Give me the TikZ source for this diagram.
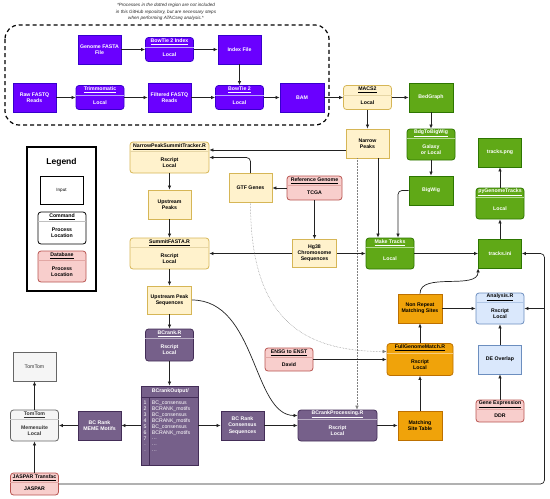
\documentclass[tikz,border=0pt]{standalone}
\usepackage{fontspec}
\setmainfont{Liberation Sans}
\usepackage{xcolor}
\usepackage{tikz}
\usetikzlibrary{arrows.meta}

% colour families: Fill, Line, Text, Sep
\definecolor{vioFill}{HTML}{6A00FF}\definecolor{vioLine}{HTML}{3700CC}\definecolor{vioText}{HTML}{FFFFFF}\definecolor{vioSep}{HTML}{B9A3FF}
\definecolor{yelFill}{HTML}{FFF2CC}\definecolor{yelLine}{HTML}{D6B656}\definecolor{yelText}{HTML}{000000}\definecolor{yelSep}{HTML}{E6D6A6}
\definecolor{grnFill}{HTML}{60A917}\definecolor{grnLine}{HTML}{2D7600}\definecolor{grnText}{HTML}{FFFFFF}\definecolor{grnSep}{HTML}{B2DA8E}
\definecolor{purFill}{HTML}{76608A}\definecolor{purLine}{HTML}{432D57}\definecolor{purText}{HTML}{FFFFFF}\definecolor{purSep}{HTML}{B9ADC4}
\definecolor{orgFill}{HTML}{F0A30A}\definecolor{orgLine}{HTML}{BD7000}\definecolor{orgText}{HTML}{000000}\definecolor{orgSep}{HTML}{F7CB7A}
\definecolor{bluFill}{HTML}{DAE8FC}\definecolor{bluLine}{HTML}{6C8EBF}\definecolor{bluText}{HTML}{000000}\definecolor{bluSep}{HTML}{AFC6E6}
\definecolor{pnkFill}{HTML}{F8CECC}\definecolor{pnkLine}{HTML}{B85450}\definecolor{pnkText}{HTML}{000000}\definecolor{pnkSep}{HTML}{E2A7A4}
\definecolor{gryFill}{HTML}{F5F5F5}\definecolor{gryLine}{HTML}{666666}\definecolor{gryText}{HTML}{333333}\definecolor{grySep}{HTML}{C8C8C8}
\definecolor{whtFill}{HTML}{FFFFFF}\definecolor{whtLine}{HTML}{000000}\definecolor{whtText}{HTML}{000000}\definecolor{whtSep}{HTML}{C0C0C0}
\definecolor{lineGray}{HTML}{222222}

\newcommand{\boxfont}{\fontsize{5.2}{6.2}\selectfont\bfseries}
% family, name, position, width, height, title, body
\newcommand{\cmdbox}[7]{%
  \node[cmd=#1, minimum width=#4, minimum height=#5] (#2) at (#3) {};
  \draw[draw=#1Sep, line width=0.6pt] ([yshift=-10]#2.north west) -- ([yshift=-10]#2.north east);
  \node[text=#1Text, font=\boxfont, inner sep=0pt] (#2-title) at ([yshift=-5]#2.north) {\underline{#6}};
  \node[text=#1Text, font=\boxfont, align=center, inner sep=0pt] (#2-body) at ([yshift=-5]#2.center) {#7};
}

\begin{document}
\begin{tikzpicture}[
    x=1pt, y=-1pt,
    box/.style={draw=#1Line, fill=#1Fill, text=#1Text, line width=0.8pt, inner sep=1pt, align=center, font=\boxfont},
    input/.style={box=#1, rectangle, minimum width=43, minimum height=29},
    cmd/.style={box=#1, rounded corners=3},
    arrow/.style={-{Latex[length=4pt,width=3.6pt]}, line width=0.7pt, draw=lineGray},
    dotline/.style={-{Latex[length=4pt,width=3.6pt]}, line width=0.5pt, draw=gray, densely dotted},
    region/.style={line width=1.2pt, dash pattern=on 4pt off 3pt, rounded corners=14},
    note/.style={font=\fontsize{4.6}{6.3}\selectfont\itshape, align=center, text=black!85},
    cell/.style={font=\fontsize{5.2}{6}\selectfont, text=white, inner sep=0pt}
]
    \useasboundingbox (0,0) rectangle (550,499);

    % region of steps done outside the repository
    \node[note] (note) at (166,12) {*Processes in the dotted region are not included\\in this GitHub repository, but are necessary steps\\when performing ATACseq analysis.*};
    \draw[region] (5,25) rectangle (329,125);

    % alignment
    \node[input=vio] (gfasta) at (99.5,49.5) {Genome FASTA\\File};
    \cmdbox{vio}{bt2idx}{169.5,49.5}{48}{24}{BowTie 2 Index}{Local}
    \node[input=vio] (idxfile) at (239.5,49.5) {Index File};
    \node[input=vio] (rawfq) at (34.5,97.5) {Raw FASTQ\\Reads};
    \cmdbox{vio}{trimmo}{100,97.5}{48}{24}{Trimmomatic}{Local}
    \node[input=vio] (filtfq) at (169.5,97.5) {Filtered FASTQ\\Reads};
    \cmdbox{vio}{bt2}{239.5,97.5}{48}{24}{BowTie 2}{Local}
    \node[input=vio, minimum width=44] (bam) at (302,97.5) {BAM};

    % peaks and tracks
    \cmdbox{yel}{macs2}{367.5,97.5}{48}{24}{MACS2}{Local}
    \node[input=grn, minimum width=44] (bedgraph) at (431,97.5) {BedGraph};
    \node[input=yel] (narrowpk) at (367.5,143.5) {Narrow\\Peaks};
    \cmdbox{grn}{bdg2bw}{431,144.5}{48}{31}{BdgToBigWig}{Galaxy\\or Local}
    \node[input=grn, minimum width=44] (bigwig) at (431,190.5) {BigWig};
    \node[input=grn] (trackspng) at (500,152.5) {tracks.png};
    \cmdbox{grn}{pgt}{500,203.5}{48}{31}{pyGenomeTracks}{Local}
    \cmdbox{grn}{maketr}{390,253.5}{48}{31}{Make Tracks}{Local}
    \node[input=grn] (tracksini) at (500,253.5) {tracks.ini};

    % summits and sequences
    \cmdbox{yel}{npst}{169.5,157.5}{79}{31}{NarrowPeakSummitTracker.R}{Rscript\\Local}
    \node[input=yel] (upstreampk) at (169.5,204.5) {Upstream\\Peaks};
    \cmdbox{yel}{sumfasta}{169.5,253.5}{79}{31}{SummitFASTA.R}{Rscript\\Local}
    \node[input=yel, minimum width=44, minimum height=28] (upseq) at (169.5,300) {Upstream Peak\\Sequences};
    \node[input=yel] (gtf) at (250.5,188) {GTF Genes};
    \cmdbox{pnk}{refgen}{314.5,188}{55}{24}{Reference Genome}{TCGA}
    \node[input=yel, minimum width=44, minimum height=28] (hg38) at (314.5,253.5) {Hg38\\Chromosome\\Sequences};

    % motifs
    \cmdbox{pur}{bcrank}{169.5,345}{48}{32}{BCrank.R}{Rscript\\Local}
    \node[box=pur, rectangle, minimum width=57, minimum height=79] (bcout) at (169.5,425.5) {};
    \draw[draw=purLine, line width=0.6pt] ([yshift=-12]bcout.north west) -- ([yshift=-12]bcout.north east);
    \draw[draw=purLine, line width=0.6pt] ([xshift=9,yshift=-12]bcout.north west) -- ([xshift=9]bcout.south west);
    \node[cell, font=\boxfont, anchor=west] (bcout-head) at ([xshift=11,yshift=-6]bcout.north west) {BCrankOutput/};
    \foreach \n/\idx/\val in {1/1/BC\_consensus, 2/2/BCRANK\_motifs, 3/3/BC\_consensus, 4/4/BCRANK\_motifs, 5/5/BC\_consensus, 6/6/BCRANK\_motifs, 7/7/\dots, 8/./\dots, 9/./\dots} {
        \node[cell] (bcout-i\n) at ([xshift=4.5,yshift={-17.5-6*(\n-1)}]bcout.north west) {\idx};
        \node[cell, anchor=west] (bcout-v\n) at ([xshift=11,yshift={-17.5-6*(\n-1)}]bcout.north west) {\val};
    }
    \node[input=pur] (mememotifs) at (99.5,425.5) {BC Rank\\MEME Motifs};
    \node[input=pur] (consseq) at (242.5,425.5) {BC Rank\\Consensus\\Sequences};
    \node[input=gry, font=\fontsize{5.2}{6.2}\selectfont] (tomtomin) at (34.5,366.5) {TomTom};
    \cmdbox{gry}{ttmeme}{34.5,425.5}{48}{31}{TomTom}{Memesuite\\Local}
    \cmdbox{pnk}{jaspar}{34.5,484}{48}{22}{JASPAR Transfac}{JASPAR}
    \cmdbox{pur}{bcproc}{337.5,425.5}{79}{31}{BCrankProcessing.R}{Rscript\\Local}

    % matching and expression
    \node[input=org, minimum width=44] (matchtab) at (420,425.5) {Matching\\Site Table};
    \cmdbox{org}{fgm}{420,359.5}{66}{32}{FullGenomeMatch.R}{Rscript\\Local}
    \cmdbox{pnk}{ensg}{289,359.5}{48}{23}{ENSG to ENST}{David}
    \node[input=org, minimum width=44] (nonrep) at (420,308.5) {Non Repeat\\Matching Sites};
    \cmdbox{blu}{analysis}{500,308.5}{48}{31}{Analysis.R}{Rscript\\Local}
    \node[input=blu] (deoverlap) at (500,359.5) {DE Overlap};
    \cmdbox{pnk}{geneexp}{500,411}{48}{22}{Gene Expression}{DDR}

    % legend
    \node[draw=black, line width=1.6pt, minimum width=69, minimum height=144] (legend) at (61.5,219) {};
    \node[font=\fontsize{8.5}{10}\selectfont\bfseries] (legend-title) at (61.5,162) {Legend};
    \node[input=wht, minimum height=28, line width=1pt, font=\fontsize{4.6}{5.5}\selectfont] (leg-input) at (61.5,190) {Input};
    \cmdbox{wht}{legcmd}{62,228}{48}{32}{Command}{Process\\Location}
    \cmdbox{pnk}{legdb}{62,266.5}{48}{31}{Database}{Process\\Location}

    % connectors
    \draw[arrow] (gfasta) -- (bt2idx);
    \draw[arrow] (bt2idx) -- (idxfile);
    \draw[arrow] (idxfile) -- (bt2);
    \draw[arrow] (rawfq) -- (trimmo);
    \draw[arrow] (trimmo) -- (filtfq);
    \draw[arrow] (filtfq) -- (bt2);
    \draw[arrow] (bt2) -- (bam);
    \draw[arrow] (bam) -- (macs2);
    \draw[arrow] (macs2) -- (bedgraph);
    \draw[arrow] (macs2) -- (narrowpk);
    \draw[arrow] (bedgraph) -- (bdg2bw);
    \draw[arrow] (bdg2bw) -- (bigwig);
    \draw[arrow, rounded corners=4] (bigwig.west) -| ([xshift=8]maketr.north);
    \draw[arrow] ([xshift=10.5]narrowpk.south) -- ([xshift=-12]maketr.north);
    \draw[dotline] ([xshift=-10.5]narrowpk.south) -- ([xshift=19.5]bcproc.north);
    \draw[arrow] ([yshift=-6.5]narrowpk.west) -- ([yshift=-6.5]narrowpk.west -| npst.east);
    \draw[arrow, rounded corners=4] (gtf.north) |- (npst.east);
    \draw[arrow] (refgen) -- (gtf);
    \draw[arrow] (refgen) -- (hg38);
    \draw[arrow] (hg38) -- (sumfasta);
    \draw[arrow] (hg38) -- (maketr);
    \draw[arrow] (maketr) -- (tracksini);
    \draw[arrow] (tracksini) -- (pgt);
    \draw[arrow] (pgt) -- (trackspng);
    \draw[arrow] (npst) -- (upstreampk);
    \draw[arrow] (upstreampk) -- (sumfasta);
    \draw[arrow] (sumfasta) -- (upseq);
    \draw[arrow] (upseq) -- (bcrank);
    \draw[arrow] (bcrank) -- (bcout);
    \draw[arrow] (upseq.east) .. controls +(65,0) and +(-45,0) .. ([yshift=10]bcproc.west);
    \draw[dotline] (gtf.south) .. controls +(0,110) and +(-90,0) .. ([yshift=8]fgm.west);
    \draw[arrow] (bcout) -- (mememotifs);
    \draw[arrow] (mememotifs) -- (ttmeme);
    \draw[arrow] (ttmeme) -- (tomtomin);
    \draw[arrow] (jaspar) -- (ttmeme);
    \draw[arrow] (bcout) -- (consseq);
    \draw[arrow] (consseq) -- (bcproc);
    \draw[arrow] (bcproc) -- (matchtab);
    \draw[arrow] (matchtab) -- (fgm);
    \draw[arrow] (ensg) -- (fgm);
    \draw[arrow] (fgm) -- (nonrep);
    \draw[arrow] (nonrep) -- (analysis);
    \draw[arrow] (nonrep.north) .. controls +(0,-22) and +(0,22) .. (tracksini.south west);
    \draw[arrow] (geneexp) -- (deoverlap);
    \draw[arrow] (deoverlap) -- (analysis);
    \coordinate (loopx) at (544.5,484);
    \draw[arrow, rounded corners=4] (jaspar.east) -| (loopx |- tracksini.east) -- (tracksini.east);
    \draw[arrow] (loopx |- analysis.east) -- (analysis.east);
\end{tikzpicture}
\end{document}
